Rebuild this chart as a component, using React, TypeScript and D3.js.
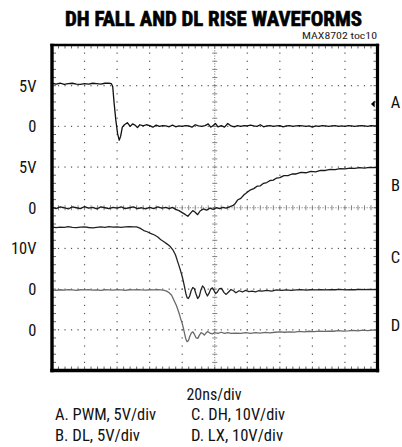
import React from "react";
import * as d3 from "d3";

// ---- data ----
const TITLE = "DH FALL AND DL RISE WAVEFORMS";
const CODE = "MAX8702 toc10";
const TIME_PER_DIV = "20ns/div";
const FOOT_LEFT = ["A. PWM, 5V/div", "B. DL, 5V/div"];
const FOOT_RIGHT = ["C. DH, 10V/div", "D. LX, 10V/div"];

const CH_NAMES = ["A", "B", "C", "D"];
const CH_VDIV = [5, 5, 10, 10];
const CH_GROUND = [6, 4, 2, 1]; // ground level in divisions from bottom
const TRIG_LEVEL_A = 2.75; // volts on channel A

const LEFT_LABELS = ["5V", "0", "5V", "0", "10V", "0", "0"];
const LEFT_LABEL_DIVS = [7, 6, 5, 4, 3, 2, 1];

// time (ns), volts
const traceA: [number, number][] = [
  [0, 5.3], [2.5, 5.2], [5, 5.3], [7.5, 5.15], [10, 5.25], [12.5, 5.3], [15, 5.2], [17.5, 5.15],
  [20, 5.25], [22.5, 5.2], [25, 5.3], [27.5, 5.25], [30, 5.2], [32.5, 5.3], [35, 5.3], [36.5, 5.25],
  [37.3, 4.9], [38.2, 2.8], [39.2, 0.8], [40.3, -0.9], [41.3, -1.7], [42.2, -1.2], [43.2, -0.1],
  [44.5, 0.2], [46.3, 0.45], [48, 0.0], [49.5, 0.3], [51, 0.15], [52.5, -0.15], [54, 0.2], [56, 0.05],
  [58, 0.2], [60, 0.1], [62, -0.1], [64, 0.15], [66, 0.0], [68, 0.1], [70, 0.05], [72, -0.05],
  [74, 0.15], [76, -0.05], [78, 0.05], [80, 0.0], [82, 0.1], [84, 0.05], [86, -0.1], [88, 0.2],
  [90, 0.05], [92, 0.0], [94, 0.1], [96, 0.3], [97.5, -0.1], [99, 0.1], [100.5, 0.35], [102, -0.05],
  [104, 0.1], [106, -0.1], [108, 0.35], [110, 0.05], [112, -0.05], [114, 0.1], [116, 0.0], [118, 0.1],
  [120, 0.05], [122, 0.15], [124, 0.05], [126, 0.0], [128, 0.2], [130, -0.05], [132, 0.05], [134, 0.1],
  [136, 0.0], [138, 0.05], [140, 0.1], [142, -0.05], [144, 0.05], [146, 0.1], [148, 0.0], [150, 0.05],
  [152, 0.1], [154, 0.05], [156, 0.0], [158, 0.05], [160, -0.1], [162, 0.05], [164, 0.0], [166, 0.1],
  [168, 0.05], [170, 0.0], [172, 0.05], [174, 0.1], [176, 0.0], [178, 0.05], [180, 0.0], [182, 0.1],
  [184, 0.05], [186, 0.0], [188, 0.05], [190, 0.1], [192, 0.05], [194, 0.0], [196, 0.1], [198, 0.05],
  [200, 0.05],
];

const traceB: [number, number][] = [
  [0, 0.05], [2.5, -0.1], [5, 0.1], [7.5, 0.0], [10, -0.15], [12.5, 0.1], [15, 0.0], [17.5, -0.1],
  [20, 0.15], [22.5, -0.05], [25, 0.05], [27.5, -0.15], [30, 0.1], [32.5, 0.0], [35, -0.1], [37.5, 0.05],
  [40, -0.05], [42.5, 0.1], [45, -0.1], [47.5, 0.0], [50, 0.1], [52.5, -0.1], [55, 0.0], [57.5, -0.15],
  [60, 0.05], [62.5, -0.1], [65, 0.1], [67.5, -0.05], [70, 0.05], [72, -0.1], [74, 0.05], [76, -0.2],
  [78, -0.35], [80, -0.6], [82, -0.85], [83.5, -1.05], [85, -0.7], [86.5, -0.35], [88, -0.55],
  [89.5, -0.85], [91, -0.4], [93, -0.15], [95, -0.3], [97, -0.05], [99, -0.2], [101, 0.0], [103, -0.1],
  [105, 0.05], [107, -0.05], [109, 0.1], [111, 0.25], [112.5, 0.5], [114, 0.95], [116, 1.15],
  [118, 1.6], [120, 1.9], [122, 2.2], [124, 2.35], [126, 2.65], [128, 2.7], [130, 3.0], [132, 3.1],
  [134, 3.35], [136, 3.4], [138, 3.65], [140, 3.7], [142.5, 3.95], [145, 3.95], [147.5, 4.15],
  [150, 4.15], [153, 4.35], [156, 4.3], [159, 4.47], [162, 4.42], [165, 4.6], [168, 4.58], [171, 4.72],
  [174, 4.68], [177, 4.82], [180, 4.78], [183, 4.88], [186, 4.84], [189, 4.92], [192, 4.87],
  [195, 4.95], [198, 4.92], [200, 4.97],
];

const traceC: [number, number][] = [
  [0, 15.3], [2.5, 15.1], [5, 15.25], [7.5, 15.2], [10, 15.35], [12.5, 15.2], [15, 15.1], [17.5, 15.25],
  [20, 15.3], [22.5, 15.15], [25, 15.05], [27.5, 15.2], [30, 15.3], [32.5, 15.2], [35, 15.35],
  [37.5, 15.25], [40, 15.3], [42.5, 15.2], [45, 15.3], [47.5, 15.35], [50, 15.3], [52, 15.3],
  [54, 15.0], [56.4, 14.4], [58.5, 14.1], [60.5, 13.7], [63, 13.3], [65, 12.8], [66.7, 12.2],
  [69, 11.6], [71, 11.0], [72.8, 10.4], [74.5, 9.5], [75.9, 8.4], [77, 7.0], [77.9, 5.9], [79, 4.5],
  [80, 3.1], [80.7, 1.9], [81.4, 0.6], [82.2, -1.0], [83, -2.1], [83.8, -2.3], [84.6, -1.7],
  [85.5, -0.4], [86.5, 0.4], [87.5, 0.1], [88.5, -1.2], [89.5, -2.3], [90.5, -1.8], [91.5, -0.2],
  [92.5, 0.8], [93.5, 0.3], [94.5, -0.9], [95.5, -1.7], [96.5, -1.0], [97.5, 0.0], [98.6, 0.3],
  [99.6, -0.4], [100.6, -1.1], [101.6, -0.7], [102.8, 0.1], [104.2, 0.2], [105.6, -0.8],
  [107, -1.3], [108.5, -0.7], [110, -0.1], [111.5, -0.4], [113, -0.9], [115, -0.4], [117, -0.7],
  [119, -0.3], [121, -0.6], [123, -0.5], [125, -0.7], [127, -0.4], [129, -0.5], [132, -0.3],
  [135, -0.5], [138, -0.2], [141, -0.3], [144, -0.2], [147, -0.3], [150, -0.2], [153, -0.1],
  [156, -0.25], [159, -0.15], [162, -0.2], [165, -0.1], [168, -0.2], [171, -0.1], [174, -0.15],
  [177, -0.05], [180, -0.2], [183, -0.1], [186, -0.15], [189, -0.05], [192, -0.1], [195, -0.05],
  [198, -0.1], [200, -0.1],
];

const traceD: [number, number][] = [
  [0, 9.8], [2.5, 9.7], [5, 9.85], [7.5, 9.75], [10, 9.9], [12.5, 9.8], [15, 9.7], [17.5, 9.85],
  [20, 9.8], [22.5, 9.9], [25, 9.75], [27.5, 9.8], [30, 9.7], [32.5, 9.85], [35, 9.8], [37.5, 9.75],
  [40, 9.9], [42.5, 9.8], [45, 9.7], [47.5, 9.85], [50, 9.8], [52.5, 9.9], [55, 9.8], [57.5, 9.75],
  [60, 9.85], [62.5, 9.8], [65, 9.85], [67, 9.8], [69, 9.7], [70.5, 9.5], [72, 9.1], [73.5, 8.5],
  [75, 7.2], [76.5, 5.9], [78, 4.2], [79, 2.8], [80, 1.6], [80.8, 0.3], [81.5, -1.0], [82.2, -2.2],
  [83, -2.9], [83.8, -2.7], [84.7, -1.6], [85.6, -0.8], [86.6, -0.5], [87.6, -1.2], [88.6, -2.0],
  [89.6, -2.1], [90.6, -1.3], [91.6, -0.7], [92.6, -0.9], [93.6, -1.3], [94.6, -0.8], [95.6, -0.4],
  [97, -0.8], [98.5, -1.0], [100, -0.7], [102, -0.9], [104, -0.6], [106, -0.9], [108, -0.7],
  [110, -0.9], [113, -0.8], [116, -0.9], [119, -0.7], [122, -0.85], [125, -0.7], [128, -0.8],
  [131, -0.65], [134, -0.75], [137, -0.6], [140, -0.5], [143, -0.6], [146, -0.5], [149, -0.55],
  [152, -0.4], [155, -0.5], [158, -0.35], [161, -0.45], [164, -0.3], [167, -0.4], [170, -0.3],
  [173, -0.35], [176, -0.2], [179, -0.3], [182, -0.25], [185, -0.15], [188, -0.25], [191, -0.1],
  [194, -0.2], [197, -0.1], [200, -0.1],
];

const TRACES = [traceA, traceB, traceC, traceD];

// ---- layout ----
const W = 402;
const H = 447;
const X0 = 52;
const X1 = 377.5;
const Y0 = 45;
const Y1 = 370.5;
const FONT = "'Liberation Sans Narrow', 'Arial Narrow', 'Roboto Condensed', 'Liberation Sans', sans-serif";
const TRACE_COLORS = ["#111", "#1a1a1a", "#222", "#6a6a6a"];
const RIGHT_LABEL_DIVS = [6.6, 4.55, 2.78, 1.12];

export default function App() {
  const x = d3.scaleLinear().domain([0, 200]).range([X0, X1]);
  const yDiv = d3.scaleLinear().domain([0, 8]).range([Y1, Y0]);
  const minorX = d3.range(0, 51).map((k) => X0 + (k * (X1 - X0)) / 50);
  const minorY = d3.range(0, 41).map((k) => Y0 + (k * (Y1 - Y0)) / 40);
  const xPx = (d: number) => X0 + (d * (X1 - X0)) / 10;

  const cx = xPx(5);
  const cy = yDiv(4);

  const dots: JSX.Element[] = [];
  for (let i = 1; i < 10; i++) {
    if (i === 5) continue;
    const gx = xPx(i);
    minorY.slice(1, -1).forEach((py, k) =>
      dots.push(<rect key={`v${i}-${k}`} x={gx - 0.6} y={py - 0.6} width={1.2} height={1.2} fill="#555" />)
    );
  }
  for (let j = 1; j < 8; j++) {
    if (j === 4) continue;
    const gy = yDiv(j);
    minorX.slice(1, -1).forEach((px, k) =>
      dots.push(<rect key={`h${j}-${k}`} x={px - 0.6} y={gy - 0.6} width={1.2} height={1.2} fill="#555" />)
    );
  }

  const ticks: JSX.Element[] = [];
  minorY.slice(1, -1).forEach((py, k) =>
    ticks.push(<line key={`cvt${k}`} x1={cx - 2.5} x2={cx + 2.5} y1={py} y2={py} stroke="#777" strokeWidth={0.9} />)
  );
  minorX.slice(1, -1).forEach((px, k) =>
    ticks.push(<line key={`cht${k}`} x1={px} x2={px} y1={cy - 2.5} y2={cy + 2.5} stroke="#777" strokeWidth={0.9} />)
  );
  minorX.slice(1, -1).forEach((px, k) => {
    ticks.push(<line key={`bt${k}`} x1={px} x2={px} y1={Y0} y2={Y0 + 3.5} stroke="#555" strokeWidth={0.9} />);
    ticks.push(<line key={`bb${k}`} x1={px} x2={px} y1={Y1} y2={Y1 - 4} stroke="#555" strokeWidth={0.9} />);
  });
  minorY.slice(1, -1).forEach((py, k) => {
    ticks.push(<line key={`bl${k}`} x1={X0} x2={X0 + 4} y1={py} y2={py} stroke="#555" strokeWidth={0.9} />);
    ticks.push(<line key={`br${k}`} x1={X1} x2={X1 - 4} y1={py} y2={py} stroke="#555" strokeWidth={0.9} />);
  });

  const paths = TRACES.map((tr, i) => {
    const line = d3
      .line<[number, number]>()
      .x((d) => x(d[0]))
      .y((d) => yDiv(CH_GROUND[i] + d[1] / CH_VDIV[i]));
    return (
      <path
        key={`tr${i}`}
        d={line(tr) || ""}
        fill="none"
        stroke={TRACE_COLORS[i]}
        strokeWidth={1.3}
        strokeLinejoin="round"
      />
    );
  });

  const trigY = yDiv(CH_GROUND[0] + TRIG_LEVEL_A / CH_VDIV[0]);

  return (
    <svg
      width={W}
      height={H}
      viewBox={`0 0 ${W} ${H}`}
      style={{ position: "absolute", left: 0, top: 0, background: "#fff" }}
      fontFamily={FONT}
    >
      <rect x={0} y={0} width={W} height={H} fill="#fff" />
      <text x={213.5} y={25.8} textAnchor="middle" fontSize={20} fontWeight="bold" textLength={297} lengthAdjust="spacingAndGlyphs" stroke="#000" strokeWidth={0.6}>
        {TITLE}
      </text>
      <text x={377} y={38.5} textAnchor="end" fontSize={9} textLength={75} lengthAdjust="spacingAndGlyphs" fill="#222">
        {CODE}
      </text>

      {dots}
      <line x1={cx} x2={cx} y1={Y0} y2={Y1} stroke="#888" strokeWidth={1} strokeDasharray="1.2 1.4" />
      <line x1={X0} x2={X1} y1={cy} y2={cy} stroke="#888" strokeWidth={1} strokeDasharray="1.2 1.4" />
      {ticks}

      {paths}

      <line x1={X0 - 1.7} x2={X1 + 1.7} y1={Y0} y2={Y0} stroke="#000" strokeWidth={2.6} />
      <line x1={X0 - 1.7} x2={X1 + 1.7} y1={Y1} y2={Y1} stroke="#000" strokeWidth={3.4} />
      <line x1={X0} x2={X0} y1={Y0 - 1.3} y2={Y1 + 1.7} stroke="#000" strokeWidth={3.4} />
      <line x1={X1} x2={X1} y1={Y0 - 1.3} y2={Y1 + 1.7} stroke="#000" strokeWidth={3.2} />

      <path d={`M${X1 - 6.5},${trigY} L${X1 - 2.8},${trigY - 3.5} L${X1 - 2.8},${trigY + 3.5} Z`} fill="#000" />

      {LEFT_LABELS.map((s, i) => (
        <text key={`ll${i}`} x={36.5} y={yDiv(LEFT_LABEL_DIVS[i]) + 6} textAnchor="end" fontSize={16.5} fill="#111">
          {s}
        </text>
      ))}
      {CH_NAMES.map((s, i) => (
        <text key={`rl${i}`} x={395.5} y={yDiv(RIGHT_LABEL_DIVS[i]) + 6} textAnchor="middle" fontSize={16.5} fill="#111">
          {s}
        </text>
      ))}

      <text x={214} y={399.5} textAnchor="middle" fontSize={16} textLength={55} lengthAdjust="spacingAndGlyphs" fill="#111">
        {TIME_PER_DIV}
      </text>
      {FOOT_LEFT.map((s, i) => (
        <text key={`fl${i}`} x={55} y={420 + i * 21} fontSize={16} textLength={i === 0 ? 101 : 85} lengthAdjust="spacingAndGlyphs" fill="#111">
          {s}
        </text>
      ))}
      {FOOT_RIGHT.map((s, i) => (
        <text key={`fr${i}`} x={191} y={420 + i * 21} fontSize={16} textLength={i === 0 ? 94 : 92} lengthAdjust="spacingAndGlyphs" fill="#111">
          {s}
        </text>
      ))}
    </svg>
  );
}
